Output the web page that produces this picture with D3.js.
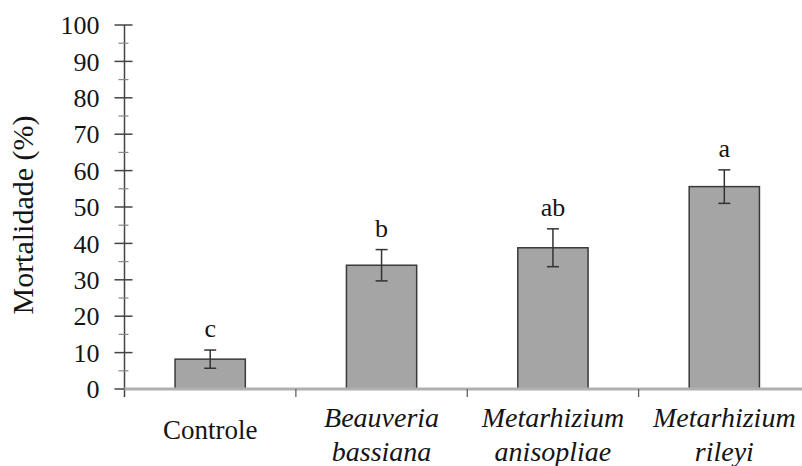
<!DOCTYPE html>
<html>
<head>
<meta charset="utf-8">
<script src="https://cdn.jsdelivr.net/npm/d3@7"></script>
<style>
  body { margin: 0; background: #fff; }
</style>
</head>
<body>
<svg id="chart" width="802" height="466" font-family="'Liberation Serif', serif" fill="#151515"></svg>
<script>
// data
var treatments = ["Controle", "Beauveria bassiana", "Metarhizium anisopliae", "Metarhizium rileyi"];
var labelLines = [["Controle"], ["Beauveria", "bassiana"], ["Metarhizium", "anisopliae"], ["Metarhizium", "rileyi"]];
var italic = [false, true, true, true];
var mortality = [8.2, 34, 38.8, 55.6];
var errors = [2.5, 4.3, 5.2, 4.6];
var letters = ["c", "b", "ab", "a"];
var yTicks = [0, 10, 20, 30, 40, 50, 60, 70, 80, 90, 100];
var yMinor = [5, 15, 25, 35, 45, 55, 65, 75, 85, 95];

var svg = d3.select("#chart");
var plotLeft = 124.5, plotRight = 810, plotTop = 25, plotBottom = 389;

var x = d3.scaleBand().domain(treatments).range([plotLeft, plotRight]).padding(0);
var y = d3.scaleLinear().domain([0, 100]).range([plotBottom, plotTop]);
var barW = x.bandwidth() * 0.41;

// y axis
var yAxis = svg.append("g");
yAxis.append("line")
  .attr("x1", plotLeft).attr("x2", plotLeft)
  .attr("y1", y(100)).attr("y2", plotBottom + 8)
  .attr("stroke", "#444").attr("stroke-width", 1.5);

yAxis.selectAll("line.major")
  .data(yTicks).enter().append("line")
  .attr("class", "major")
  .attr("x1", plotLeft - 10).attr("x2", plotLeft + 8)
  .attr("y1", function(d) { return y(d); })
  .attr("y2", function(d) { return y(d); })
  .attr("stroke", "#444").attr("stroke-width", 1.5);

yAxis.selectAll("line.minor")
  .data(yMinor).enter().append("line")
  .attr("class", "minor")
  .attr("x1", plotLeft - 6).attr("x2", plotLeft + 4)
  .attr("y1", function(d) { return y(d); })
  .attr("y2", function(d) { return y(d); })
  .attr("stroke", "#888").attr("stroke-width", 1.2);

yAxis.selectAll("text")
  .data(yTicks).enter().append("text")
  .attr("x", plotLeft - 25)
  .attr("y", function(d) { return y(d); })
  .attr("dy", "0.35em")
  .attr("text-anchor", "end")
  .attr("font-size", 26)
  .text(function(d) { return d; });

svg.append("text")
  .attr("transform", "translate(" + 33 + "," + 215 + ") rotate(-90)")
  .attr("text-anchor", "middle")
  .attr("font-size", 30)
  .text("Mortalidade (%)");

// bars
var bars = svg.append("g");
bars.selectAll("rect")
  .data(treatments).enter().append("rect")
  .attr("x", function(d) { return x(d) + (x.bandwidth() - barW) / 2; })
  .attr("y", function(d, i) { return y(mortality[i]); })
  .attr("width", barW)
  .attr("height", function(d, i) { return plotBottom - y(mortality[i]); })
  .attr("fill", "#a5a5a5")
  .attr("stroke", "#3a3a3a")
  .attr("stroke-width", 1.5);

// x axis
svg.append("line")
  .attr("x1", plotLeft).attr("x2", 802)
  .attr("y1", plotBottom).attr("y2", plotBottom)
  .attr("stroke", "#b0b0b0").attr("stroke-width", 3);

svg.selectAll("line.xtick")
  .data(treatments.slice(1)).enter().append("line")
  .attr("class", "xtick")
  .attr("x1", function(d) { return x(d); })
  .attr("x2", function(d) { return x(d); })
  .attr("y1", plotBottom).attr("y2", plotBottom + 8)
  .attr("stroke", "#555").attr("stroke-width", 1.2);

// error bars
var err = svg.append("g").attr("stroke", "#333").attr("stroke-width", 1.5);
treatments.forEach(function(t, i) {
  var cx = x(t) + x.bandwidth() / 2;
  var hi = y(mortality[i] + errors[i]), lo = y(mortality[i] - errors[i]);
  err.append("line").attr("x1", cx).attr("x2", cx).attr("y1", hi).attr("y2", lo);
  err.append("line").attr("x1", cx - 6).attr("x2", cx + 6).attr("y1", hi).attr("y2", hi);
  err.append("line").attr("x1", cx - 6).attr("x2", cx + 6).attr("y1", lo).attr("y2", lo);
});

// significance letters
svg.selectAll("text.letter")
  .data(treatments).enter().append("text")
  .attr("class", "letter")
  .attr("x", function(d) { return x(d) + x.bandwidth() / 2; })
  .attr("y", function(d, i) { return y(mortality[i] + errors[i]) - 13; })
  .attr("text-anchor", "middle")
  .attr("font-size", 26)
  .text(function(d, i) { return letters[i]; });

// category labels
var cat = svg.selectAll("text.cat")
  .data(treatments).enter().append("text")
  .attr("class", "cat")
  .attr("text-anchor", "middle")
  .attr("font-size", function(d, i) { return italic[i] ? 28 : 27; })
  .attr("font-style", function(d, i) { return italic[i] ? "italic" : "normal"; })
  .attr("transform", function(d) { return "translate(" + (x(d) + x.bandwidth() / 2) + ",0)"; });

cat.each(function(d, i) {
  var lines = labelLines[i];
  var el = d3.select(this);
  if (lines.length === 1) {
    el.append("tspan").attr("x", 0).attr("y", 439).text(lines[0]);
  } else {
    lines.forEach(function(l, j) {
      el.append("tspan").attr("x", 0).attr("y", 427 + j * 34).text(l);
    });
  }
});
</script>
</body>
</html>
